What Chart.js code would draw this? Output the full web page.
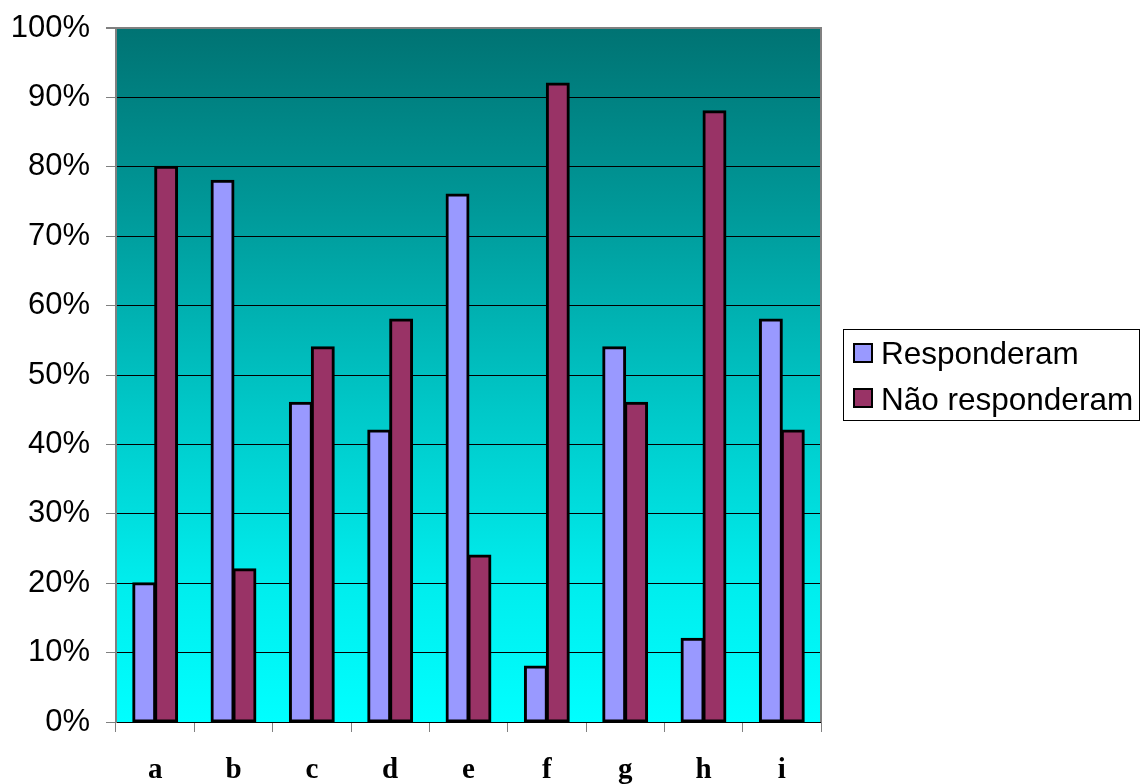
<!DOCTYPE html>
<html>
<head>
<meta charset="utf-8">
<script src="https://cdn.jsdelivr.net/npm/chart.js@4/dist/chart.umd.min.js"></script>
<style>
  html, body { margin: 0; padding: 0; background: #ffffff; }
  #wrap { width: 1140px; height: 784px; }
</style>
</head>
<body>
<div id="wrap"><canvas id="c" width="1140" height="784"></canvas></div>
<script>
// Survey answers per question (percent of respondents)
const categories = ['a', 'b', 'c', 'd', 'e', 'f', 'g', 'h', 'i'];
const responderam = [20, 78, 46, 42, 76, 8, 54, 12, 58];
const naoResponderam = [80, 22, 54, 58, 24, 92, 46, 88, 42];
const seriesNames = ['Responderam', 'Não responderam'];
const seriesColors = ['#9999FF', '#993366'];

const SANS = "'Liberation Sans', Arial, sans-serif";
const SERIF = "'Liberation Serif', 'Times New Roman', serif";

// Plot background: vertical teal-to-cyan gradient plus grey frame
const plotBackground = {
  id: 'plotBackground',
  beforeDraw(chart) {
    const { ctx, chartArea: a } = chart;
    ctx.save();
    ctx.fillStyle = '#ffffff';
    ctx.fillRect(0, 0, chart.width, chart.height);
    const g = ctx.createLinearGradient(0, a.top, 0, a.bottom);
    g.addColorStop(0, '#007373');
    g.addColorStop(0.25, '#009797');
    g.addColorStop(0.55, '#00C8C8');
    g.addColorStop(0.8, '#00EDED');
    g.addColorStop(1, '#00FFFF');
    ctx.fillStyle = g;
    ctx.fillRect(a.left, a.top, a.right - a.left, a.bottom - a.top);
    ctx.restore();
  },
  afterDatasetsDraw(chart) {
    const { ctx, chartArea: a } = chart;
    ctx.save();
    ctx.strokeStyle = '#808080';
    ctx.lineWidth = 2;
    ctx.beginPath();
    ctx.moveTo(a.left, a.top);
    ctx.lineTo(a.right, a.top);
    ctx.lineTo(a.right, a.bottom);
    ctx.stroke();
    ctx.restore();
  }
};

// Boxed legend to the right of the plot
const boxedLegend = {
  id: 'boxedLegend',
  afterDraw(chart) {
    const { ctx } = chart;
    const x0 = 843.5, y0 = 329.5, x1 = 1139.5, y1 = 420.5;
    ctx.save();
    ctx.strokeStyle = '#000000';
    ctx.lineWidth = 1;
    ctx.strokeRect(x0, y0, x1 - x0, y1 - y0);
    ctx.font = '31.5px ' + SANS;
    ctx.textBaseline = 'alphabetic';
    ctx.textAlign = 'left';
    chart.data.datasets.forEach((ds, i) => {
      const sy = 344 + i * 45;
      ctx.fillStyle = ds.backgroundColor;
      ctx.fillRect(854, sy, 18, 18);
      ctx.lineWidth = 2;
      ctx.strokeStyle = '#000000';
      ctx.strokeRect(854, sy, 18, 18);
      ctx.fillStyle = '#000000';
      ctx.fillText(ds.label, 881, 364 + i * 46);
    });
    ctx.restore();
  }
};

new Chart(document.getElementById('c'), {
  type: 'bar',
  data: {
    labels: categories,
    datasets: [
      { label: seriesNames[0], data: responderam, backgroundColor: seriesColors[0] },
      { label: seriesNames[1], data: naoResponderam, backgroundColor: seriesColors[1] }
    ]
  },
  options: {
    responsive: false,
    animation: false,
    devicePixelRatio: 1,
    layout: { padding: { left: 0, top: 28, right: 319, bottom: 0 } },
    datasets: {
      bar: {
        categoryPercentage: 0.56,
        barPercentage: 1.0,
        borderColor: '#000000',
        borderWidth: 3,
        inflateAmount: 1,
        borderSkipped: false
      }
    },
    plugins: {
      legend: { display: false },
      tooltip: { enabled: false },
      title: { display: false }
    },
    scales: {
      x: {
        offset: true,
        grid: {
          offset: true,
          drawOnChartArea: false,
          drawTicks: true,
          tickLength: 10,
          tickColor: '#808080',
          lineWidth: 1
        },
        border: { display: false },
        ticks: {
          color: '#000000',
          padding: 21,
          maxRotation: 0,
          font: { family: SERIF, size: 29, weight: 'bold' }
        },
        afterFit(scale) { scale.height = 62; scale.paddingLeft = 0; scale.paddingRight = 0; }
      },
      y: {
        min: 0,
        max: 100,
        grid: {
          color: (c) => (c.tick && c.tick.value === 100 ? '#808080' : '#000000'),
          lineWidth: (c) => (c.tick && c.tick.value === 100 ? 2 : 1),
          tickLength: 10,
          tickColor: '#808080'
        },
        border: { display: true, color: '#808080', width: 2 },
        ticks: {
          stepSize: 10,
          color: '#000000',
          padding: 16,
          font: { family: SANS, size: 31 },
          callback: (v) => v + '%'
        },
        afterFit(scale) { scale.width = 116; scale.paddingTop = 0; scale.paddingBottom = 0; }
      }
    }
  },
  plugins: [plotBackground, boxedLegend]
});
</script>
</body>
</html>
